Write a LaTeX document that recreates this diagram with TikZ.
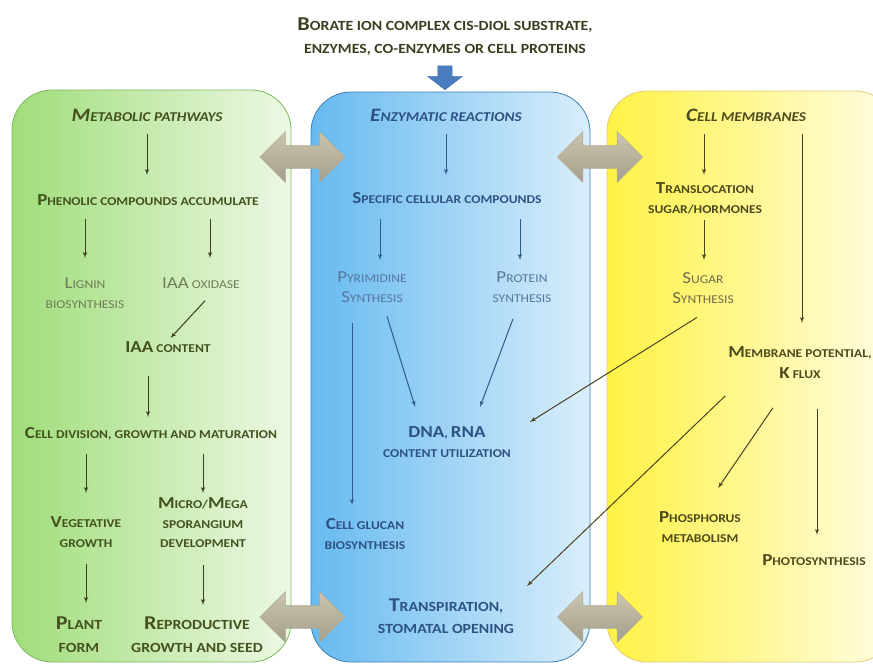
\documentclass[tikz,border=0pt]{standalone}
\usepackage{fontspec}
\setmainfont{Carlito}[FakeStretch=1.13]
\usetikzlibrary{arrows}
\usetikzlibrary{shapes.arrows}

\definecolor{leftdark}{HTML}{A0DD7A}
\definecolor{leftlight}{HTML}{EDF8E4}
\definecolor{leftline}{HTML}{7BB85C}
\definecolor{middark}{HTML}{66BAF0}
\definecolor{midlight}{HTML}{DAEEFB}
\definecolor{midline}{HTML}{3F7FB5}
\definecolor{rightdark}{HTML}{FFF244}
\definecolor{rightlight}{HTML}{FFFDE6}
\definecolor{rightline}{HTML}{E2CB7A}
\definecolor{titletxt}{HTML}{3C3C1E}
\definecolor{greentxt}{HTML}{44521F}
\definecolor{greenpale}{HTML}{6E7D58}
\definecolor{greenarrow}{HTML}{3A3D1E}
\definecolor{bluetxt}{HTML}{2D5283}
\definecolor{bluepale}{HTML}{5577A0}
\definecolor{bluearrow}{HTML}{2F5A8C}
\definecolor{olivetxt}{HTML}{4D4A1C}
\definecolor{olivepale}{HTML}{716C4A}
\definecolor{olivearrow}{HTML}{4A4422}
\definecolor{grayhi}{HTML}{CCC6B0}
\definecolor{graylo}{HTML}{A39E8A}
\definecolor{grayedge}{HTML}{B0AA95}
\definecolor{blockblue}{HTML}{4A7CC0}
\definecolor{blockedge}{HTML}{3B69A8}

% small capitals: capitals larger, the rest at the node size
\makeatletter
\newcommand\B[1]{{\fontsize{\strip@pt\dimexpr1.4\dimexpr\f@size pt\relax\relax}{\f@baselineskip}\selectfont #1}}
\makeatother

\begin{document}
\begin{tikzpicture}[x=1pt,y=-1pt]
    \tikzset{txt/.style = {align=center, inner sep=1pt, anchor=north, font=\bfseries\fontsize{12}{19.5}\selectfont}}
    \tikzset{pale/.style = {txt, font=\fontsize{12}{19.5}\selectfont}}
    \tikzset{head/.style = {txt, font=\bfseries\itshape\fontsize{13.5}{19.5}\selectfont}}
    \tikzset{large/.style = {txt, font=\bfseries\fontsize{14}{23}\selectfont}}
    \tikzset{edge/.style = {->, > = latex', line width=1pt}}
    \tikzset{ledge/.style = {edge, draw=greenarrow}}
    \tikzset{medge/.style = {edge, draw=bluearrow}}
    \tikzset{redge/.style = {edge, draw=olivearrow}}
    \tikzset{panel/.style = {rounded corners=40pt, line width=0.8pt}}
    \tikzset{exchange/.style = {double arrow, double arrow head extend=14pt, minimum width=50pt,
        minimum height=85pt, inner sep=0pt, inner ysep=11pt, top color=grayhi, bottom color=graylo,
        draw=grayedge, line width=0.6pt}}

    \useasboundingbox (0,0) rectangle (873,664);
    \clip (0,0) rectangle (873,664);

    % panels
    \path[panel, draw=leftline, left color=leftdark, right color=leftlight] (12,90) rectangle (291,662);
    \path[panel, draw=midline, left color=middark, right color=midlight] (311,92) rectangle (590,662);
    \path[panel, draw=rightline, left color=rightdark, right color=rightlight] (607,91) rectangle (895,662);

    % title
    \node[large, text=titletxt] (title) at (445,16.8)
        {\B{B}ORATE ION COMPLEX CIS-DIOL SUBSTRATE,\\ENZYMES, CO-ENZYMES OR CELL PROTEINS};
    \node[single arrow, rotate=-90, single arrow head extend=10pt, single arrow tip angle=105,
        minimum height=24pt, minimum width=34pt, inner sep=0pt, inner ysep=7pt,
        fill=blockblue, draw=blockedge] (down) at (445,75) {};

    % exchange arrows
    \node[exchange] (lm1) at (302.5,157) {};
    \node[exchange] (lm2) at (302.5,617) {};
    \node[exchange] (mr1) at (600,157) {};
    \node[exchange] (mr2) at (600,617) {};

    % metabolic pathways
    \begin{scope}[every node/.append style={text=greentxt}]
    \node[head] (met) at (147,108) {\B{M}ETABOLIC PATHWAYS};
    \node[txt] (phen) at (148,193.75) {\B{P}HENOLIC COMPOUNDS ACCUMULATE};
    \node[pale, text=greenpale] (lig) at (85,276.75) {\B{L}IGNIN\\BIOSYNTHESIS};
    \node[pale, text=greenpale] (oxi) at (201,276.75) {\B{IAA} OXIDASE};
    \node[txt] (iaa) at (168,340.75) {\B{IAA} CONTENT};
    \node[txt] (cell) at (151,426.75) {\B{C}ELL DIVISION, GROWTH AND MATURATION};
    \node[txt] (veg) at (86,515.75) {\B{V}EGETATIVE\\GROWTH};
    \node[txt] (micro) at (203,496.75) {\B{M}ICRO/\B{M}EGA\\SPORANGIUM\\DEVELOPMENT};
    \node[large] (plant) at (79,615.8) {\B{P}LANT\\FORM};
    \node[large] (repro) at (197,615.8) {\B{R}EPRODUCTIVE\\GROWTH AND SEED};
    \end{scope}

    \draw[ledge, shorten <=11pt, shorten >=18.75pt] (met.south) -- (met.south |- phen.north);
    \draw[ledge, shorten <=11.75pt, shorten >=18.75pt] (phen.south -| lig.north) -- (lig.north);
    \draw[ledge, shorten <=11.75pt, shorten >=18.75pt] ([xshift=9pt]phen.south -| oxi.north) -- ([xshift=9pt]oxi.north);
    \draw[ledge, shorten <=14.6pt, shorten >=3.7pt] ([xshift=14pt]oxi.south) -- (iaa.north);
    \draw[ledge, shorten <=21.75pt, shorten >=9.75pt] ([xshift=-3pt]cell.north |- iaa.south) -- ([xshift=-3pt]cell.north);
    \draw[ledge, shorten <=12.25pt, shorten >=22.75pt] (cell.south -| veg.north) -- (veg.north);
    \draw[ledge, shorten <=12.25pt, shorten >=3.75pt] (cell.south -| micro.north) -- (micro.north);
    \draw[ledge, shorten <=15.35pt, shorten >=12.8pt] (veg.south) -- (veg.south |- plant.north);
    \draw[ledge, shorten <=16.35pt, shorten >=10.8pt] (micro.south) -- (micro.south |- repro.north);

    % enzymatic reactions
    \begin{scope}[every node/.append style={text=bluetxt}]
    \node[head] (enz) at (446,108) {\B{E}NZYMATIC REACTIONS};
    \node[txt] (spec) at (447,191.75) {\B{S}PECIFIC CELLULAR COMPOUNDS};
    \node[pale, text=bluepale] (pyr) at (372,270.75) {\B{P}YRIMIDINE\\\B{S}YNTHESIS};
    \node[pale, text=bluepale] (prot) at (522,270.75) {\B{P}ROTEIN\\SYNTHESIS};
    \node[txt] (dna) at (447,425.75) {\B{DNA}, \B{RNA}\\CONTENT UTILIZATION};
    \node[txt] (glucan) at (365,517.75) {\B{C}ELL GLUCAN\\BIOSYNTHESIS};
    \node[large, font=\bfseries\fontsize{14}{21.5}\selectfont] (trans) at (446,597.8) {\B{T}RANSPIRATION,\\STOMATAL OPENING};
    \end{scope}

    \draw[medge, shorten <=11pt, shorten >=16.75pt] (enz.south) -- (enz.south |- spec.north);
    \draw[medge, shorten <=13.75pt, shorten >=10.75pt] ([xshift=8pt]pyr.north |- spec.south) -- ([xshift=8pt]pyr.north);
    \draw[medge, shorten <=13.75pt, shorten >=10.75pt] ([xshift=-2pt]prot.north |- spec.south) -- ([xshift=-2pt]prot.north);
    \draw[medge, shorten <=19.75pt, shorten >=12.75pt] ([xshift=-20pt]pyr.south) -- ([xshift=-20pt]pyr.south |- glucan.north);
    \draw[medge, shorten <=13.4pt, shorten >=19.7pt] ([xshift=11pt]pyr.south) -- ([xshift=-26pt]dna.north);
    \draw[medge, shorten <=16.4pt, shorten >=20pt] ([xshift=-3.3pt]prot.south) -- ([xshift=26pt]dna.north);

    % cell membranes
    \begin{scope}[every node/.append style={text=olivetxt}]
    \node[head] (memb) at (746,108) {\B{C}ELL MEMBRANES};
    \node[txt] (transl) at (705,181.75) {\B{T}RANSLOCATION\\SUGAR/HORMONES};
    \node[pale, text=olivepale] (sugar) at (703,271.75) {\B{S}UGAR\\\B{S}YNTHESIS};
    \node[txt, font=\bfseries\fontsize{12}{21}\selectfont] (mpot) at (800,345.75) {\B{M}EMBRANE POTENTIAL,\\\B{K} FLUX};
    \node[txt] (phos) at (700,510.75) {\B{P}HOSPHORUS\\METABOLISM};
    \node[txt] (photo) at (814,553.75) {\B{P}HOTOSYNTHESIS};
    \end{scope}

    \draw[redge, shorten <=11pt, shorten >=6.75pt] ([xshift=-1pt]transl.north |- memb.south) -- ([xshift=-1pt]transl.north);
    \draw[redge, shorten <=11pt, shorten >=22.75pt] ([xshift=2pt]mpot.north |- memb.south) -- ([xshift=2pt]mpot.north);
    \draw[redge, shorten <=5.35pt, shorten >=11.75pt] ([xshift=1pt]sugar.north |- transl.south) -- ([xshift=1pt]sugar.north);
    \draw[redge, shorten <=24pt, shorten >=7pt] ([xshift=14.3pt]sugar.south) -- ([xshift=77pt]dna.north);
    \draw[redge, shorten <=22.7pt, shorten >=17pt] ([xshift=-58.3pt]mpot.south) -- ([xshift=68.7pt]trans.north);
    \draw[redge, shorten <=33.5pt, shorten >=27.5pt] ([xshift=-8.2pt]mpot.south) -- ([xshift=2.6pt]phos.north);
    \draw[redge, shorten <=28.75pt, shorten >=18.75pt] ([xshift=3pt]photo.north |- mpot.south) -- ([xshift=3pt]photo.north);
\end{tikzpicture}
\end{document}
